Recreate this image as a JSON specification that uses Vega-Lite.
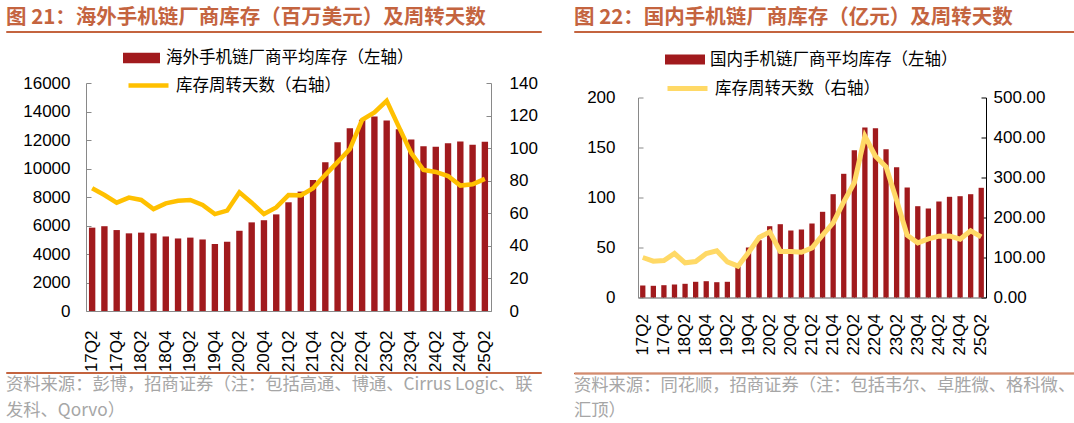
{
  "$schema": "https://vega.github.io/schema/vega-lite/v6.json",
  "background": "white",
  "padding": {"left": 5, "top": 7, "right": 0, "bottom": 0},
  "datasets": {
    "left": [
      {"q": "17Q2", "inv": 5850, "days": 75.4},
      {"q": "17Q3", "inv": 5950, "days": 71.2},
      {"q": "17Q4", "inv": 5680, "days": 66.5},
      {"q": "18Q1", "inv": 5450, "days": 69.6},
      {"q": "18Q2", "inv": 5500, "days": 68.2},
      {"q": "18Q3", "inv": 5450, "days": 62.6},
      {"q": "18Q4", "inv": 5230, "days": 66.1},
      {"q": "19Q1", "inv": 5090, "days": 67.7},
      {"q": "19Q2", "inv": 5150, "days": 68.2},
      {"q": "19Q3", "inv": 5020, "days": 65.1},
      {"q": "19Q4", "inv": 4700, "days": 59.5},
      {"q": "20Q1", "inv": 4860, "days": 61.6},
      {"q": "20Q2", "inv": 5630, "days": 72.9},
      {"q": "20Q3", "inv": 6220, "days": 66.5},
      {"q": "20Q4", "inv": 6370, "days": 59.5},
      {"q": "21Q1", "inv": 6780, "days": 63.6},
      {"q": "21Q2", "inv": 7630, "days": 71.2},
      {"q": "21Q3", "inv": 8380, "days": 71.0},
      {"q": "21Q4", "inv": 9200, "days": 75.4},
      {"q": "22Q1", "inv": 10440, "days": 83.6},
      {"q": "22Q2", "inv": 11850, "days": 91.4},
      {"q": "22Q3", "inv": 12830, "days": 99.4},
      {"q": "22Q4", "inv": 13420, "days": 117.4},
      {"q": "23Q1", "inv": 13650, "days": 121.9},
      {"q": "23Q2", "inv": 13370, "days": 129.1},
      {"q": "23Q3", "inv": 12760, "days": 112.9},
      {"q": "23Q4", "inv": 12030, "days": 96.9},
      {"q": "24Q1", "inv": 11570, "days": 86.6},
      {"q": "24Q2", "inv": 11520, "days": 85.4},
      {"q": "24Q3", "inv": 11780, "days": 82.9},
      {"q": "24Q4", "inv": 11890, "days": 77.0},
      {"q": "25Q1", "inv": 11660, "days": 77.8},
      {"q": "25Q2", "inv": 11870, "days": 81.1}
    ],
    "right": [
      {"q": "17Q2", "inv": 12.0, "days": 100.0},
      {"q": "17Q3", "inv": 11.7, "days": 90.8},
      {"q": "17Q4", "inv": 12.3, "days": 92.5},
      {"q": "18Q1", "inv": 13.0, "days": 110.0},
      {"q": "18Q2", "inv": 13.7, "days": 86.7},
      {"q": "18Q3", "inv": 15.7, "days": 90.0},
      {"q": "18Q4", "inv": 16.3, "days": 110.0},
      {"q": "19Q1", "inv": 15.3, "days": 116.7},
      {"q": "19Q2", "inv": 15.7, "days": 89.0},
      {"q": "19Q3", "inv": 31.0, "days": 78.3},
      {"q": "19Q4", "inv": 50.0, "days": 112.5},
      {"q": "20Q1", "inv": 57.3, "days": 150.0},
      {"q": "20Q2", "inv": 71.3, "days": 164.0},
      {"q": "20Q3", "inv": 73.3, "days": 115.0},
      {"q": "20Q4", "inv": 67.0, "days": 115.0},
      {"q": "21Q1", "inv": 68.0, "days": 113.0},
      {"q": "21Q2", "inv": 74.0, "days": 124.0},
      {"q": "21Q3", "inv": 85.7, "days": 155.8},
      {"q": "21Q4", "inv": 103.3, "days": 186.7},
      {"q": "22Q1", "inv": 123.7, "days": 239.0},
      {"q": "22Q2", "inv": 147.3, "days": 286.7},
      {"q": "22Q3", "inv": 170.0, "days": 403.3},
      {"q": "22Q4", "inv": 169.3, "days": 353.3},
      {"q": "23Q1", "inv": 148.3, "days": 326.7},
      {"q": "23Q2", "inv": 130.3, "days": 243.0},
      {"q": "23Q3", "inv": 110.0, "days": 155.8},
      {"q": "23Q4", "inv": 91.3, "days": 136.7},
      {"q": "24Q1", "inv": 89.0, "days": 146.7},
      {"q": "24Q2", "inv": 96.0, "days": 153.3},
      {"q": "24Q3", "inv": 100.7, "days": 154.0},
      {"q": "24Q4", "inv": 101.3, "days": 145.8},
      {"q": "25Q1", "inv": 103.3, "days": 166.7},
      {"q": "25Q2", "inv": 109.7, "days": 151.7}
    ]
  },
  "spacing": 31,
  "resolve": {"scale": {"fill": "independent", "stroke": "independent"}},
  "hconcat": [
    {
      "spacing": -2,
      "resolve": {"scale": {"fill": "independent", "stroke": "independent"}},
      "vconcat": [
        {
          "spacing": 6,
          "resolve": {"scale": {"fill": "independent", "stroke": "independent"}},
          "vconcat": [
            {
              "width": 535, "height": 1,
              "title": {"text": "图 21：海外手机链厂商库存（百万美元）及周转天数", "anchor": "start", "orient": "top", "fontSize": 20.5, "fontWeight": "bold", "color": "#C4643F", "offset": 3, "font": "Noto Sans CJK SC"},
              "view": {"stroke": "#C4643F", "strokeWidth": 1},
              "data": {"values": []},
              "mark": "point",
              "encoding": {}
            },
            {
              "spacing": 0,
              "resolve": {"scale": {"fill": "independent", "stroke": "independent"}},
              "hconcat": [
                {
                  "width": 1, "height": 1,
                  "data": {"values": []},
                  "mark": "point",
                  "encoding": {}
                },
                {
                  "width": 405, "height": 228,
                  "data": {"name": "left"},
                  "encoding": {
                    "x": {"field": "q", "type": "nominal", "sort": null, "title": null,
                      "scale": {"paddingInner": 0.48, "paddingOuter": 0.24},
                      "axis": {"labelAngle": 270, "labelOverlap": false, "labelPadding": 23, "tickSize": -4,
                        "labelExpr": "(substring(datum.value, 3) == '2' || substring(datum.value, 3) == '4') ? datum.value : ''"}}
                  },
                  "layer": [
                    {
                      "mark": {"type": "bar"},
                      "encoding": {
                        "y": {"field": "inv", "type": "quantitative", "title": null,
                          "scale": {"domain": [0, 16000]},
                          "axis": {"orient": "left", "values": [0, 2000, 4000, 6000, 8000, 10000, 12000, 14000, 16000], "format": "d", "labelPadding": 21, "tickSize": -5, "minExtent": 79}},
                        "fill": {"datum": "海外手机链厂商平均库存（左轴）", "scale": {"range": ["#A11A1D"]},
                          "legend": {"orient": "none", "legendX": 37, "legendY": -43.5, "symbolType": "M-1,-0.29H1V0.29H-1Z", "symbolSize": 1369, "symbolStrokeWidth": 0, "labelOffset": 6}}
                      }
                    },
                    {
                      "mark": {"type": "line", "strokeWidth": 4.5},
                      "encoding": {
                        "y": {"field": "days", "type": "quantitative", "title": null,
                          "scale": {"domain": [0, 140]},
                          "axis": {"orient": "right", "values": [0, 20, 40, 60, 80, 100, 120, 140], "labelPadding": 23, "tickSize": -5}},
                        "stroke": {"datum": "库存周转天数（右轴）", "scale": {"range": ["#FFC000"]},
                          "legend": {"orient": "none", "legendX": 40, "legendY": -20, "symbolType": "stroke", "symbolSize": 1600, "symbolStrokeWidth": 4.5, "labelOffset": 5}}
                      }
                    }
                  ],
                  "resolve": {"scale": {"y": "independent"}}
                }
              ]
            }
          ]
        },
        {
          "width": 535, "height": 1,
          "title": {"text": ["资料来源：彭博，招商证券（注：包括高通、博通、Cirrus Logic、联", "发科、Qorvo）"], "anchor": "start", "orient": "bottom", "fontSize": 17.3, "fontWeight": "normal", "color": "#A6A6A6", "offset": 3, "lineHeight": 25.5, "baseline": "top", "font": "Noto Sans CJK SC"},
          "view": {"stroke": "#C4643F", "strokeWidth": 1},
          "data": {"values": []},
          "mark": "point",
          "encoding": {}
        }
      ]
    },
    {
      "spacing": 15.5,
      "resolve": {"scale": {"fill": "independent", "stroke": "independent"}},
      "vconcat": [
        {
          "spacing": 6.5,
          "resolve": {"scale": {"fill": "independent", "stroke": "independent"}},
          "vconcat": [
            {
              "width": 500, "height": 1,
              "title": {"text": "图 22：国内手机链厂商库存（亿元）及周转天数", "anchor": "start", "orient": "top", "fontSize": 20.5, "fontWeight": "bold", "color": "#C4643F", "offset": 3, "font": "Noto Sans CJK SC"},
              "view": {"stroke": "#C4643F", "strokeWidth": 1},
              "data": {"values": []},
              "mark": "point",
              "encoding": {}
            },
            {
              "spacing": 0,
              "resolve": {"scale": {"fill": "independent", "stroke": "independent"}},
              "hconcat": [
                {
                  "width": 1, "height": 1,
                  "data": {"values": []},
                  "mark": "point",
                  "encoding": {}
                },
                {
                  "width": 348, "height": 200,
                  "data": {"name": "right"},
                  "encoding": {
                    "x": {"field": "q", "type": "nominal", "sort": null, "title": null,
                      "scale": {"paddingInner": 0.5, "paddingOuter": 0.2},
                      "axis": {"labelAngle": 270, "labelOverlap": false, "labelPadding": 20, "tickSize": -4, "domainColor": "#595959",
                        "labelExpr": "(substring(datum.value, 3) == '2' || substring(datum.value, 3) == '4') ? datum.value : ''"}}
                  },
                  "layer": [
                    {
                      "mark": {"type": "bar"},
                      "encoding": {
                        "y": {"field": "inv", "type": "quantitative", "title": null,
                          "scale": {"domain": [0, 200]},
                          "axis": {"orient": "left", "values": [0, 50, 100, 150, 200], "labelPadding": 28, "tickSize": -5, "minExtent": 63}},
                        "fill": {"datum": "国内手机链厂商平均库存（左轴）", "scale": {"range": ["#A11A1D"]},
                          "legend": {"orient": "none", "legendX": 27, "legendY": -58, "symbolType": "M-1,-0.25H1V0.25H-1Z", "symbolSize": 1600, "symbolStrokeWidth": 0, "labelOffset": 5}}
                      }
                    },
                    {
                      "mark": {"type": "line", "strokeWidth": 5},
                      "encoding": {
                        "y": {"field": "days", "type": "quantitative", "title": null,
                          "scale": {"domain": [0, 500]},
                          "axis": {"orient": "right", "values": [0, 100, 200, 300, 400, 500], "format": ".2f", "labelPadding": 12, "tickSize": -5, "domainColor": "#000000", "tickColor": "#000000"}},
                        "stroke": {"datum": "库存周转天数（右轴）", "scale": {"range": ["#FFD966"]},
                          "legend": {"orient": "none", "legendX": 27, "legendY": -31.5, "symbolType": "stroke", "symbolSize": 1600, "symbolStrokeWidth": 5, "labelOffset": 5}}
                      }
                    }
                  ],
                  "resolve": {"scale": {"y": "independent"}}
                }
              ]
            }
          ]
        },
        {
          "width": 500, "height": 1,
          "title": {"text": ["资料来源：同花顺，招商证券（注：包括韦尔、卓胜微、格科微、", "汇顶）"], "anchor": "start", "orient": "bottom", "fontSize": 17.3, "fontWeight": "normal", "color": "#A6A6A6", "offset": 3, "lineHeight": 25.5, "baseline": "top", "font": "Noto Sans CJK SC"},
          "view": {"stroke": "#C4643F", "strokeWidth": 1},
          "data": {"values": []},
          "mark": "point",
          "encoding": {}
        }
      ]
    }
  ],
  "config": {
    "view": {"stroke": null},
    "axis": {"labelFont": "Liberation Sans", "labelFontSize": 17, "labelColor": "#000000", "domainColor": "#898989", "tickColor": "#898989", "grid": false},
    "legend": {"labelFont": "Noto Sans CJK SC", "labelFontSize": 16.5, "labelColor": "#000000", "padding": 0, "labelLimit": 500},
    "title": {"font": "Noto Sans CJK SC"}
  }
}
